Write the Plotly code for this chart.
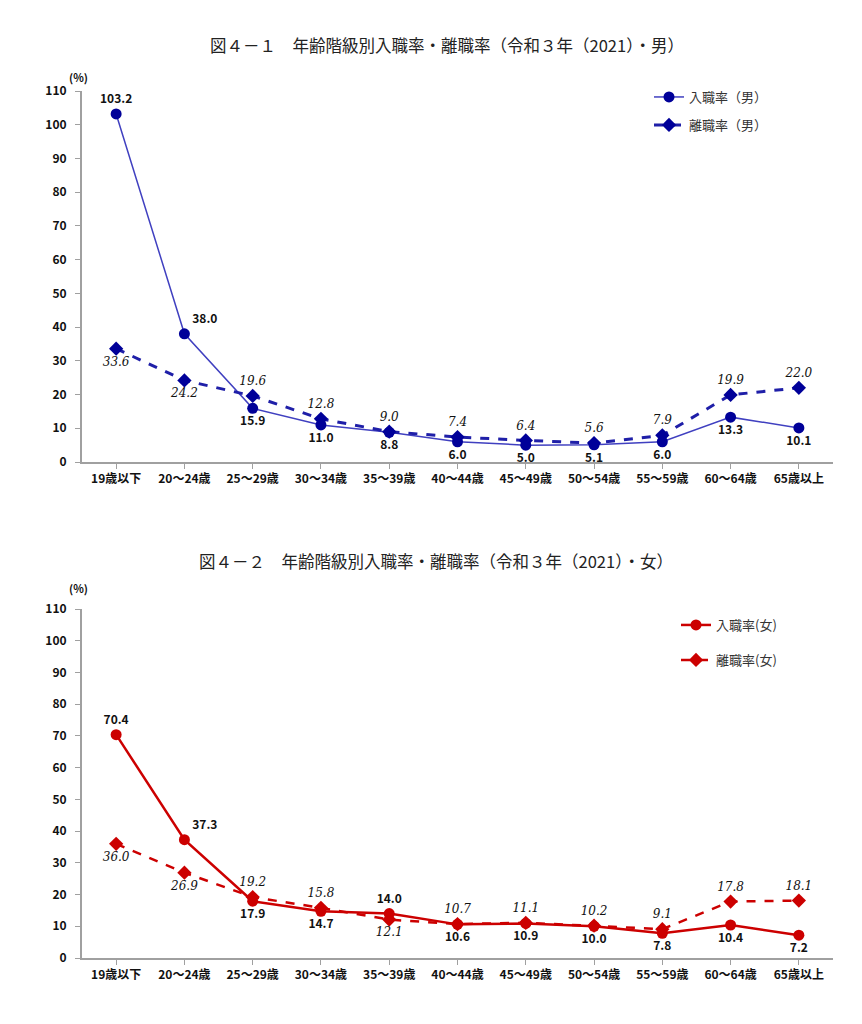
import plotly.graph_objects as go

categories = ["19歳以下", "20～24歳", "25～29歳", "30～34歳", "35～39歳", "40～44歳",
              "45～49歳", "50～54歳", "55～59歳", "60～64歳", "65歳以上"]

entry_male = [103.2, 38.0, 15.9, 11.0, 8.8, 6.0, 5.0, 5.1, 6.0, 13.3, 10.1]
sep_male = [33.6, 24.2, 19.6, 12.8, 9.0, 7.4, 6.4, 5.6, 7.9, 19.9, 22.0]
entry_female = [70.4, 37.3, 17.9, 14.7, 14.0, 10.6, 10.9, 10.0, 7.8, 10.4, 7.2]
sep_female = [36.0, 26.9, 19.2, 15.8, 12.1, 10.7, 11.1, 10.2, 9.1, 17.8, 18.1]

pos_entry_male = ["top center", "top right"] + ["bottom center"] * 9
pos_sep_male = ["bottom center", "bottom center"] + ["top center"] * 9
pos_entry_female = ["top center", "top right", "bottom center", "bottom center", "top center",
                    "bottom center", "bottom center", "bottom center", "bottom center",
                    "bottom center", "bottom center"]
pos_sep_female = ["bottom center", "bottom center", "top center", "top center", "bottom center",
                  "top center", "top center", "top center", "top center", "top center", "top center"]

FONT = "Noto Sans CJK JP"
OFF = 8  # default page body margin
W, H = 846, 1000

fig = go.Figure()

def fmt(v):
    return [f"{x:.1f}" for x in v]

fig.add_trace(go.Scatter(x=categories, y=entry_male, name="入職率（男）", mode="lines+markers+text",
                         line=dict(color="#4040c0", width=1.5),
                         marker=dict(color="#000099", size=11, symbol="circle"),
                         text=fmt(entry_male), textposition=pos_entry_male,
                         textfont=dict(family=FONT, size=12, color="#111", weight="bold"),
                         xaxis="x", yaxis="y", legend="legend2"))
fig.add_trace(go.Scatter(x=categories, y=sep_male, name="離職率（男）", mode="lines+markers+text",
                         line=dict(color="#1f1fa8", width=3, dash="dash"),
                         marker=dict(color="#000099", size=11, symbol="diamond"),
                         text=fmt(sep_male), textposition=pos_sep_male,
                         textfont=dict(family="DejaVu Serif", size=12, color="#111", style="italic"),
                         xaxis="x", yaxis="y", legend="legend3"))
fig.add_trace(go.Scatter(x=categories, y=entry_female, name="入職率(女)", mode="lines+markers+text",
                         line=dict(color="#cc0000", width=2.5),
                         marker=dict(color="#cc0000", size=11, symbol="circle"),
                         text=fmt(entry_female), textposition=pos_entry_female,
                         textfont=dict(family=FONT, size=12, color="#111", weight="bold"),
                         xaxis="x2", yaxis="y2", legend="legend4"))
fig.add_trace(go.Scatter(x=categories, y=sep_female, name="離職率(女)", mode="lines+markers+text",
                         line=dict(color="#cc0000", width=2.5, dash="dash"),
                         marker=dict(color="#cc0000", size=11, symbol="diamond"),
                         text=fmt(sep_female), textposition=pos_sep_female,
                         textfont=dict(family="DejaVu Serif", size=12, color="#111", style="italic"),
                         xaxis="x2", yaxis="y2", legend="legend5"))

def px(x):
    return (x - OFF) / W

def py(y):
    return 1 - (y - OFF) / H

xdom = [px(82), px(833)]
axis_common = dict(showgrid=False, zeroline=False, showline=True, linecolor="#a0a0a0", linewidth=2,
                   ticks="outside", tickcolor="#a0a0a0", ticklen=5, automargin=False,
                   tickfont=dict(family=FONT, size=12, color="#111", weight="bold"))
xaxis_common = dict(axis_common, type="category", range=[-0.5, 10.5], domain=xdom)
yaxis_common = dict(axis_common, range=[0, 110], tickvals=list(range(0, 111, 10)),
                    ticklabelstandoff=6)

legend_common = dict(bgcolor="rgba(0,0,0,0)", font=dict(family=FONT, size=13, color="#333"),
                     xanchor="left", yanchor="middle", itemwidth=30)

def ann(text, x, y, size, weight="normal", color="#222"):
    return dict(text=text, x=px(x), y=py(y), xref="paper", yref="paper", showarrow=False,
                xanchor="center", yanchor="middle",
                font=dict(family=FONT, size=size, color=color, weight=weight))

fig.update_layout(
    width=W, height=H, margin=dict(l=0, r=0, t=0, b=0, autoexpand=False),
    plot_bgcolor="white", paper_bgcolor="white",
    xaxis=dict(xaxis_common, anchor="y"),
    yaxis=dict(yaxis_common, domain=[py(462), py(91)], anchor="x"),
    xaxis2=dict(xaxis_common, anchor="y2"),
    yaxis2=dict(yaxis_common, domain=[py(958), py(609)], anchor="x2"),
    legend=dict(visible=False),
    legend2=dict(legend_common, x=px(649), y=py(97)),
    legend3=dict(legend_common, x=px(649), y=py(125)),
    legend4=dict(legend_common, x=px(676), y=py(625)),
    legend5=dict(legend_common, x=px(676), y=py(660)),
    annotations=[
        ann("図４－１　年齢階級別入職率・離職率（令和３年（2021）・男）", 447, 45, 16.5),
        ann("図４－２　年齢階級別入職率・離職率（令和３年（2021）・女）", 436, 561, 16.5),
        ann("(%)", 78, 77, 11, "bold", "#111"),
        ann("(%)", 78, 588, 11, "bold", "#111"),
    ],
)

fig.write_html("out.html")
